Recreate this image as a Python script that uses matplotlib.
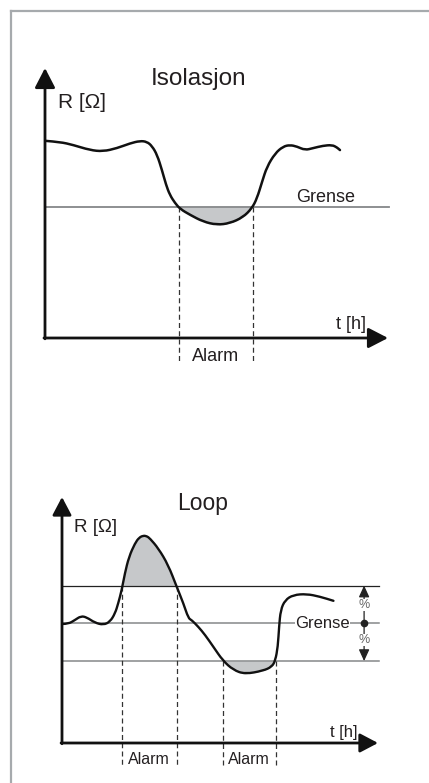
import matplotlib
matplotlib.use("Agg")
import matplotlib.pyplot as plt
from matplotlib.lines import Line2D
from matplotlib.path import Path
from matplotlib.patches import PathPatch
import numpy as np

plt.rcParams['font.family'] = ['Liberation Sans', 'DejaVu Sans']

# ---------------- data ----------------
# Top panel: "Isolasjon"
iso_t = [0.03, 0.44, 0.82, 1.31, 1.69, 2.10, 2.48, 2.77, 2.97, 3.12, 3.27, 3.41,
         3.53, 3.64, 3.79, 3.94, 4.23, 4.61, 5.01, 5.39, 5.77, 6.03, 6.18, 6.33,
         6.47, 6.71, 6.94, 7.14, 7.35, 7.58, 7.81, 8.10, 8.37, 8.51, 8.60]
iso_R = [7.30, 7.26, 7.15, 6.96, 6.91, 7.03, 7.21, 7.30, 7.27, 7.11, 6.78, 6.22,
         5.67, 5.30, 5.00, 4.78, 4.56, 4.31, 4.19, 4.25, 4.47, 4.80, 5.17, 5.79,
         6.34, 6.84, 7.09, 7.15, 7.09, 6.96, 7.03, 7.12, 7.15, 7.06, 6.96]
iso_limit = 4.85
iso_alarm = [3.91, 6.06]

# Bottom panel: "Loop"
loop_t = [0.01, 0.20, 0.41, 0.60, 0.78, 1.04, 1.31, 1.52, 1.68, 1.78, 1.89, 1.99,
          2.12, 2.31, 2.44, 2.57, 2.68, 2.78, 3.05, 3.36, 3.63, 3.84, 4.00, 4.10,
          4.31, 4.53, 4.79, 5.09, 5.42, 5.79, 6.37, 6.64, 6.75, 6.83, 6.87, 6.92,
          7.06, 7.32, 7.74, 8.16, 8.59]
loop_R = [4.84, 4.84, 5.00, 5.16, 5.11, 4.89, 4.80, 4.93, 5.27, 5.68, 6.22, 6.90,
          7.57, 8.12, 8.35, 8.43, 8.41, 8.32, 7.91, 7.24, 6.35, 5.68, 5.07, 5.00,
          4.73, 4.39, 3.91, 3.35, 2.97, 2.80, 2.94, 3.10, 3.35, 3.91, 4.73, 5.41,
          5.81, 6.02, 6.06, 5.95, 5.78]
loop_limit = 4.88
loop_upper = 6.40
loop_lower = 3.33
loop_alarms = [(1.90, 3.64, 'upper'), (5.09, 6.77, 'lower')]

titles = ["Isolasjon", "Loop"]
ylabel = "R [Ω]"
xlabel = "t [h]"
limit_label = "Grense"
alarm_label = "Alarm"

# ---------------- styling ----------------
W, H = 429, 783
fig = plt.figure(figsize=(W / 100, H / 100), dpi=100)
fig.patch.set_facecolor('white')

TXT = '#231f20'
CURVE = '#111111'
GRAY = '#858789'
FILL = '#c6c8ca'
FRAME = '#a6aaad'
DASH = '#333333'

# frame (top and left only)
fig.add_artist(Line2D([10.5 / W, 1.0], [1 - 10.5 / H, 1 - 10.5 / H],
                      transform=fig.transFigure, color=FRAME, lw=1.6))
fig.add_artist(Line2D([10.5 / W, 10.5 / W], [1 - 10.5 / H, 0.0],
                      transform=fig.transFigure, color=FRAME, lw=1.6))


def make_axes(x0, y0, x1, y1):
    ax = fig.add_axes([x0 / W, 1 - y0 / H, (x1 - x0) / W, (y0 - y1) / H])
    ax.set_xlim(0, 10)
    ax.set_ylim(0, 10)
    ax.axis('off')
    return ax


def draw_axes_arrows(ax, hl, hw, lw=2.0):
    style = f'-|>,head_length={hl},head_width={hw}'
    ax.annotate('', xy=(0, 10), xytext=(0, -0.03), xycoords='data',
                arrowprops=dict(arrowstyle=style, color=CURVE, lw=lw,
                                shrinkA=0, shrinkB=0, mutation_scale=1),
                annotation_clip=False)
    ax.annotate('', xy=(10, 0), xytext=(-0.03, 0), xycoords='data',
                arrowprops=dict(arrowstyle=style, color=CURVE, lw=lw,
                                shrinkA=0, shrinkB=0, mutation_scale=1),
                annotation_clip=False)


def smooth_curve(ax, xs, ys, lw):
    """Draw the read points as a smooth quadratic-Bezier path in data space."""
    verts = [(xs[0], ys[0])]
    codes = [Path.MOVETO]
    n = len(xs)
    for i in range(1, n - 1):
        mid = ((xs[i] + xs[i + 1]) / 2, (ys[i] + ys[i + 1]) / 2)
        verts += [(xs[i], ys[i]), mid]
        codes += [Path.CURVE3, Path.CURVE3]
    verts.append((xs[-1], ys[-1]))
    codes.append(Path.LINETO)
    patch = PathPatch(Path(verts, codes), facecolor='none', edgecolor=CURVE,
                      lw=lw, capstyle='round', joinstyle='round', zorder=3,
                      clip_on=False, transform=ax.transData)
    ax.add_patch(patch)


# ---------------- top panel ----------------
ax1 = make_axes(45, 338, 388, 68)
draw_axes_arrows(ax1, 12, 6.2)
t = np.array(iso_t)
R = np.array(iso_R)
ax1.fill_between(t, R, iso_limit, where=R < iso_limit, interpolate=True,
                 color=FILL, lw=0, zorder=1)
ax1.plot([0, 10.03], [iso_limit, iso_limit], color=GRAY, lw=1.3, zorder=2,
         clip_on=False)
for a in iso_alarm:
    ax1.plot([a, a], [iso_limit, -0.93], color=DASH, lw=0.9,
             ls=(0, (4, 2.6)), clip_on=False, zorder=2)
smooth_curve(ax1, iso_t, iso_R, 1.8)
ax1.text(4.49, 9.37, titles[0], fontsize=17.5, ha='center', va='baseline', color=TXT)
ax1.text(0.38, 8.52, ylabel, fontsize=15, ha='left', va='baseline', color=TXT)
ax1.text(7.32, 5.05, limit_label, fontsize=13, ha='left', va='baseline', color=TXT)
ax1.text(8.48, 0.33, xlabel, fontsize=13, ha='left', va='baseline', color=TXT)
ax1.text(4.28, -0.85, alarm_label, fontsize=13, ha='left', va='baseline',
         color=TXT, clip_on=False)

# ---------------- bottom panel ----------------
ax2 = make_axes(62, 743, 378, 497)
draw_axes_arrows(ax2, 11, 5.8)
t2 = np.array(loop_t)
R2 = np.array(loop_R)
ax2.fill_between(t2, R2, loop_upper, where=R2 > loop_upper, interpolate=True,
                 color=FILL, lw=0, zorder=1)
ax2.fill_between(t2, R2, loop_lower, where=R2 < loop_lower, interpolate=True,
                 color=FILL, lw=0, zorder=1)
ax2.plot([0, 10.03], [loop_upper, loop_upper], color='#222222', lw=0.9,
         zorder=2, clip_on=False)
ax2.plot([0, 10.03], [loop_limit, loop_limit], color=GRAY, lw=1.1,
         zorder=2, clip_on=False)
ax2.plot([0, 10.03], [loop_lower, loop_lower], color=GRAY, lw=1.1,
         zorder=2, clip_on=False)
for a0, a1, which in loop_alarms:
    top = loop_upper if which == 'upper' else loop_lower
    for a in (a0, a1):
        ax2.plot([a, a], [top, -0.98], color=DASH, lw=0.9,
                 ls=(0, (4, 2.6)), clip_on=False, zorder=2)
smooth_curve(ax2, loop_t, loop_R, 1.7)

# percent band marker
pct_t = 9.56
for end in (loop_upper, loop_lower):
    ax2.annotate('', xy=(pct_t, end), xytext=(pct_t, loop_limit),
                 arrowprops=dict(arrowstyle='-|>,head_length=7,head_width=3.2',
                                 color='#222222', lw=0.9, shrinkA=0, shrinkB=0,
                                 mutation_scale=1), annotation_clip=False)
ax2.plot([pct_t], [loop_limit], 'o', color='#222222', ms=4.5, zorder=4,
         clip_on=False)
for yv in (5.61, 4.19):
    ax2.text(pct_t, yv, '%', fontsize=9, ha='center', va='center',
             color='#666666', zorder=5,
             bbox=dict(facecolor='white', edgecolor='none', pad=0.3))

ax2.text(3.63, 9.47, titles[1], fontsize=16.5, ha='left', va='baseline', color=TXT)
ax2.text(0.38, 8.59, ylabel, fontsize=13.5, ha='left', va='baseline', color=TXT)
ax2.text(7.37, 4.69, limit_label, fontsize=12, ha='left', va='baseline',
         color=TXT, zorder=5,
         bbox=dict(facecolor='white', edgecolor='none', pad=0.2))
ax2.text(8.48, 0.24, xlabel, fontsize=12, ha='left', va='baseline', color=TXT)
ax2.text(2.10, -0.87, alarm_label, fontsize=11.5, ha='left', va='baseline',
         color=TXT, clip_on=False)
ax2.text(5.26, -0.87, alarm_label, fontsize=11.5, ha='left', va='baseline',
         color=TXT, clip_on=False)

fig.savefig('out.png', dpi=100, facecolor='white')
